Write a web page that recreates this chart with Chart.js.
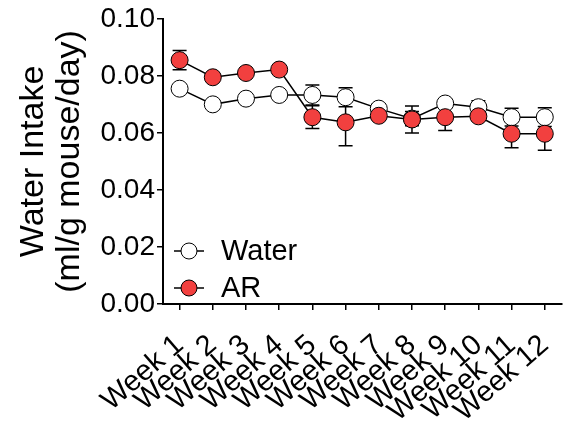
<!DOCTYPE html>
<html lang="en">
<head>
    <meta charset="UTF-8">
    <title>Water Intake</title>
    <script src="https://cdn.jsdelivr.net/npm/chart.js"></script>
    <style>
        html, body { margin: 0; padding: 0; background: #fff; }
        #wrap { width: 586px; height: 432px; }
    </style>
</head>
<body>
    <div id="wrap"><canvas id="intakeChart" width="586" height="432"></canvas></div>

    <script>
        // Data
        const weeks = ["Week 1", "Week 2", "Week 3", "Week 4", "Week 5", "Week 6",
                       "Week 7", "Week 8", "Week 9", "Week 10", "Week 11", "Week 12"];
        const waterMean = [0.0755, 0.0700, 0.0720, 0.0733, 0.0733, 0.0725, 0.0685, 0.0650, 0.0703, 0.0690, 0.0655, 0.0655];
        const waterErr  = [0.0010, 0.0010, 0.0010, 0.0010, 0.0035, 0.0033, 0.0017, 0.0025, 0.0015, 0.0023, 0.0031, 0.0033];
        const arMean    = [0.0855, 0.0795, 0.0810, 0.0822, 0.0655, 0.0637, 0.0660, 0.0647, 0.0655, 0.0658, 0.0597, 0.0597];
        const arErr     = [0.0034, 0.0010, 0.0010, 0.0010, 0.0040, 0.0082, 0.0015, 0.0047, 0.0047, 0.0015, 0.0049, 0.0058];
        const yTicks = [0, 0.02, 0.04, 0.06, 0.08, 0.10];

        const FONT = "'Liberation Sans', Arial, sans-serif";
        const RED = "#f2403f";

        // error bars, drawn under the markers
        const errorBars = {
            id: "errorBars",
            beforeDatasetsDraw(chart) {
                const ctx = chart.ctx;
                const y = chart.scales.y;
                ctx.save();
                ctx.strokeStyle = "#000";
                ctx.lineWidth = 1.5;
                chart.data.datasets.forEach((ds, i) => {
                    const meta = chart.getDatasetMeta(i);
                    meta.data.forEach((pt, j) => {
                        const e = ds.errors[j];
                        const top = y.getPixelForValue(ds.data[j] + e);
                        const bot = y.getPixelForValue(ds.data[j] - e);
                        ctx.beginPath();
                        ctx.moveTo(pt.x, top); ctx.lineTo(pt.x, bot);
                        ctx.moveTo(pt.x - 7, top); ctx.lineTo(pt.x + 7, top);
                        ctx.moveTo(pt.x - 7, bot); ctx.lineTo(pt.x + 7, bot);
                        ctx.stroke();
                    });
                });
                ctx.restore();
            }
        };

        // legend sits inside the plot, bottom left
        const innerLegend = {
            id: "innerLegend",
            afterDraw(chart) {
                const ctx = chart.ctx;
                const items = [
                    { label: "Water", fill: "#fff", y: 251 },
                    { label: "AR", fill: RED, y: 288 }
                ];
                ctx.save();
                items.forEach(it => {
                    ctx.strokeStyle = "#000";
                    ctx.lineWidth = 1.5;
                    ctx.beginPath();
                    ctx.moveTo(174, it.y); ctx.lineTo(204, it.y);
                    ctx.stroke();
                    ctx.beginPath();
                    ctx.arc(189, it.y, 8, 0, Math.PI * 2);
                    ctx.fillStyle = it.fill;
                    ctx.fill();
                    ctx.lineWidth = 1;
                    ctx.stroke();
                    ctx.fillStyle = "#000";
                    ctx.font = "29px " + FONT;
                    ctx.textBaseline = "middle";
                    ctx.fillText(it.label, 221, it.y + 1);
                });
                ctx.restore();
            }
        };

        const ctx = document.getElementById("intakeChart").getContext("2d");
        new Chart(ctx, {
            type: "line",
            data: {
                labels: weeks,
                datasets: [
                    {
                        label: "AR",
                        data: arMean,
                        errors: arErr,
                        order: 0,
                        borderColor: "#000",
                        borderWidth: 1.5,
                        backgroundColor: RED,
                        pointBackgroundColor: RED,
                        pointBorderColor: "#000",
                        pointBorderWidth: 1,
                        pointRadius: 8.5,
                        tension: 0
                    },
                    {
                        label: "Water",
                        data: waterMean,
                        errors: waterErr,
                        order: 1,
                        borderColor: "#000",
                        borderWidth: 1.5,
                        backgroundColor: "#fff",
                        pointBackgroundColor: "#fff",
                        pointBorderColor: "#000",
                        pointBorderWidth: 1,
                        pointRadius: 8.5,
                        tension: 0
                    }
                ]
            },
            options: {
                responsive: false,
                animation: false,
                layout: { padding: { top: 16, right: 4, left: 15, bottom: 0 } },
                plugins: {
                    legend: { display: false },
                    tooltip: { enabled: false }
                },
                scales: {
                    x: {
                        offset: true,
                        afterFit(scale) { scale.height = 128; },
                        grid: { drawOnChartArea: false, drawTicks: true, tickLength: 6, color: "#000", lineWidth: 1.5 },
                        border: { color: "#000", width: 2 },
                        ticks: {
                            color: "#000",
                            font: { family: FONT, size: 29 },
                            minRotation: 41,
                            maxRotation: 41,
                            autoSkip: false,
                            padding: 18
                        }
                    },
                    y: {
                        min: 0,
                        max: 0.1,
                        afterFit(scale) { scale.width = 148; },
                        afterBuildTicks(scale) {
                            scale.ticks = yTicks.map(v => ({ value: v }));
                        },
                        grid: { drawOnChartArea: false, drawTicks: true, tickLength: 6, color: "#000", lineWidth: 1.5 },
                        border: { color: "#000", width: 2 },
                        ticks: {
                            color: "#000",
                            font: { family: FONT, size: 28 },
                            padding: 2,
                            callback: v => Number(v).toFixed(2)
                        },
                        title: {
                            display: true,
                            text: ["Water Intake", "(ml/g mouse/day)"],
                            color: "#000",
                            font: { family: FONT, size: 34, lineHeight: 1.08 },
                            padding: { top: 0, bottom: 0 }
                        }
                    }
                }
            },
            plugins: [errorBars, innerLegend]
        });
    </script>
</body>
</html>
